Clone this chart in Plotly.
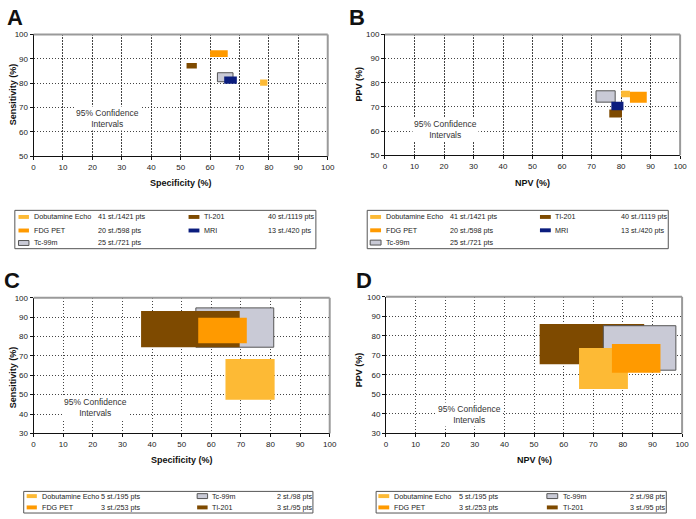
import plotly.graph_objects as go

W, H = 696, 519

# ---------------- data ----------------
COLORS = {
    "Dobutamine Echo": "#FDBA35",
    "FDG PET": "#FF9A00",
    "Tl-201": "#7E4A00",
    "Tc-99m": "#C9CAD6",
    "MRI": "#0B1D7E",
}

# Panel A: sensitivity vs specificity (all studies)
methods_A = ["Dobutamine Echo", "FDG PET", "Tl-201", "Tc-99m", "MRI"]
spec_lo_A = [77.0, 60.0, 52.0, 62.5, 64.8]
spec_hi_A = [79.5, 66.0, 55.5, 67.8, 69.1]
sens_lo_A = [79.0, 90.7, 86.0, 80.6, 79.8]
sens_hi_A = [81.5, 93.5, 88.3, 84.3, 82.7]

# Panel B: PPV vs NPV (all studies)
methods_B = ["Tc-99m", "Dobutamine Echo", "FDG PET", "Tl-201", "MRI"]
npv_lo_B = [71.5, 80.0, 83.0, 76.0, 76.7]
npv_hi_B = [78.0, 83.0, 88.7, 80.3, 80.8]
ppv_lo_B = [72.0, 74.0, 71.7, 65.6, 68.6]
ppv_hi_B = [76.7, 76.7, 76.3, 69.0, 72.2]

# Panel C: sensitivity vs specificity (subset)
methods_C = ["Tc-99m", "Tl-201", "FDG PET", "Dobutamine Echo"]
spec_lo_C = [54.8, 36.3, 55.6, 64.8]
spec_hi_C = [81.1, 69.6, 72.0, 81.4]
sens_lo_C = [74.5, 74.5, 76.5, 47.4]
sens_hi_C = [94.8, 93.2, 89.7, 68.4]

# Panel D: PPV vs NPV (subset)
methods_D = ["Tl-201", "Tc-99m", "Dobutamine Echo", "FDG PET"]
npv_lo_D = [51.9, 73.4, 65.2, 76.3]
npv_hi_D = [87.2, 97.9, 81.7, 92.7]
ppv_lo_D = [65.4, 62.4, 52.8, 61.1]
ppv_hi_D = [86.1, 85.2, 73.8, 75.8]

x_ticks = [0, 10, 20, 30, 40, 50, 60, 70, 80, 90, 100]

# legends
leg_AB_col1 = ["Dobutamine Echo", "FDG PET", "Tc-99m"]
leg_AB_col1_n = ["41 st./1421 pts", "20 st./598 pts", "25 st./721 pts"]
leg_AB_col2 = ["Tl-201", "MRI"]
leg_AB_col2_n = ["40 st./1119 pts", "13 st./420 pts"]

leg_CD_col1 = ["Dobutamine Echo", "FDG PET"]
leg_CD_col1_n = ["5 st./195 pts", "3 st./253 pts"]
leg_CD_col2 = ["Tc-99m", "Tl-201"]
leg_CD_col2_n = ["2 st./98 pts", "3 st./95 pts"]


def px(x):
    return x / W


def py(y):
    return 1 - y / H


FONT = "Liberation Sans, Arial, Helvetica, sans-serif"
LEG_SIZE = 7.2
TICK_SIZE = 8

fig = go.Figure()

panels = [
    dict(ax="", methods=methods_A, xlo=spec_lo_A, xhi=spec_hi_A, ylo=sens_lo_A, yhi=sens_hi_A,
         dom=(32, 330, 31, 155), yr=[50, 100], letter="A", letpos=(13, 14),
         xt="Specificity (%)", xtpos=(181, 182.5), yt="Sensitivity (%)", ytpos=(12, 92),
         note=(25, 65.7)),
    dict(ax="2", methods=methods_B, xlo=npv_lo_B, xhi=npv_hi_B, ylo=ppv_lo_B, yhi=ppv_hi_B,
         dom=(388, 687, 31, 154), yr=[50, 100], letter="B", letpos=(360, 14),
         xt="NPV (%)", xtpos=(537.5, 182), yt="PPV (%)", ytpos=(361.5, 81),
         note=(20.6, 60.8)),
    dict(ax="3", methods=methods_C, xlo=spec_lo_C, xhi=spec_hi_C, ylo=sens_lo_C, yhi=sens_hi_C,
         dom=(32, 332, 299, 437), yr=[30, 100], letter="C", letpos=(10, 281),
         xt="Specificity (%)", xtpos=(182, 464), yt="Sensitivity (%)", ytpos=(12, 380),
         note=(20.8, 43.5)),
    dict(ax="4", methods=methods_D, xlo=npv_lo_D, xhi=npv_hi_D, ylo=ppv_lo_D, yhi=ppv_hi_D,
         dom=(389, 689, 298, 437), yr=[30, 100], letter="D", letpos=(367, 281),
         xt="NPV (%)", xtpos=(539, 464), yt="PPV (%)", ytpos=(361.5, 372),
         note=(28.3, 39.7)),
]

shapes = []
annotations = []
layout_axes = {}


def centered(**kw):
    kw.setdefault("xanchor", "center")
    kw.setdefault("yanchor", "middle")
    kw.setdefault("showarrow", False)
    return kw


for p in panels:
    a = p["ax"]
    xname, yname = "x" + a, "y" + a
    for m, x0, x1, y0, y1 in zip(p["methods"], p["xlo"], p["xhi"], p["ylo"], p["yhi"]):
        bordered = m == "Tc-99m"
        fig.add_trace(go.Scatter(
            x=[x0, x1, x1, x0, x0], y=[y0, y0, y1, y1, y0],
            xaxis=xname, yaxis=yname, mode="lines", fill="toself",
            fillcolor=COLORS[m],
            line=dict(color="#555555" if bordered else COLORS[m], width=1 if bordered else 0),
            hoverinfo="skip", showlegend=False,
        ))
    x0p, x1p, ytp, ybp = p["dom"]
    common = dict(ticks="outside", ticklen=3, tickcolor="#111",
                  showline=True, linecolor="#111", linewidth=1,
                  showgrid=True, gridcolor="#444", griddash="1.5px,1.5px", gridwidth=1,
                  zeroline=False, tickfont=dict(family=FONT, size=TICK_SIZE, color="#222"),
                  fixedrange=True)
    xa = dict(domain=[px(x0p), px(x1p)], range=[0, 100], anchor=yname,
              tickvals=x_ticks, **common)
    yticks = list(range(p["yr"][0], 101, 10))
    ya = dict(domain=[py(ybp), py(ytp)], range=p["yr"], anchor=xname,
              tickvals=yticks, **common)
    layout_axes["xaxis" + a] = xa
    layout_axes["yaxis" + a] = ya
    shapes.append(dict(type="line", xref=xname + " domain", yref=yname + " domain",
                       x0=0, x1=1, y0=1, y1=1, line=dict(color="#9a9a9a", width=2)))
    shapes.append(dict(type="line", xref=xname + " domain", yref=yname + " domain",
                       x0=1, x1=1, y0=0, y1=1, line=dict(color="#9a9a9a", width=2)))
    annotations.append(centered(text="<b>%s</b>" % p["letter"], x=px(p["letpos"][0]),
                                y=py(p["letpos"][1]), xref="paper", yref="paper",
                                font=dict(family=FONT, size=22, color="#111")))
    annotations.append(centered(text="<b>%s</b>" % p["xt"], x=px(p["xtpos"][0]),
                                y=py(p["xtpos"][1]), xref="paper", yref="paper",
                                font=dict(family=FONT, size=9, color="#111")))
    annotations.append(centered(text="<b>%s</b>" % p["yt"], x=px(p["ytpos"][0]),
                                y=py(p["ytpos"][1]), xref="paper", yref="paper", textangle=-90,
                                font=dict(family=FONT, size=9, color="#111")))
    annotations.append(centered(text="95% Confidence<br>Intervals", x=p["note"][0], y=p["note"][1],
                                xref=xname, yref=yname, bgcolor="white", borderpad=1,
                                font=dict(family=FONT, size=8.5, color="#333")))


def add_legend(box, rows_y, cols):
    bx0, bx1, by0, by1 = box
    shapes.append(dict(type="rect", xref="paper", yref="paper",
                       x0=px(bx0), x1=px(bx1), y0=py(by1), y1=py(by0),
                       line=dict(color="#555", width=1), fillcolor="rgba(0,0,0,0)"))
    for (sw0, sw1, lab_x, cnt_x, names, counts) in cols:
        for ry, nm, ct in zip(rows_y, names, counts):
            bordered = nm == "Tc-99m"
            hh = 2.5 if bordered else 2
            shapes.append(dict(type="rect", xref="paper", yref="paper",
                               x0=px(sw0), x1=px(sw1), y0=py(ry + hh), y1=py(ry - hh),
                               fillcolor=COLORS[nm],
                               line=dict(color="#555" if bordered else COLORS[nm],
                                         width=1 if bordered else 0)))
            annotations.append(dict(text=nm, x=px(lab_x), y=py(ry), xref="paper", yref="paper",
                                    xanchor="left", yanchor="middle", showarrow=False,
                                    font=dict(family=FONT, size=LEG_SIZE, color="#222")))
            annotations.append(dict(text=ct, x=px(cnt_x), y=py(ry), xref="paper", yref="paper",
                                    xanchor="left", yanchor="middle", showarrow=False,
                                    font=dict(family=FONT, size=LEG_SIZE, color="#222")))


add_legend((13, 318, 210, 249), [216.7, 230.5, 243.2],
           [(16.7, 27.3, 30.2, 95.5, leg_AB_col1, leg_AB_col1_n),
            (189, 200, 202.5, 267.5, leg_AB_col2, leg_AB_col2_n)])
add_legend((370, 675, 210, 249), [216.7, 230.3, 242.8],
           [(373, 384, 386.5, 451.5, leg_AB_col1, leg_AB_col1_n),
            (545, 556, 558.5, 625, leg_AB_col2, leg_AB_col2_n)])
add_legend((22, 315, 496, 518), [500.8, 512.3],
           [(25, 35.3, 38.3, 98.5, leg_CD_col1, leg_CD_col1_n),
            (197.7, 208.3, 210.3, 276.3, leg_CD_col2, leg_CD_col2_n)])
add_legend((379, 673, 496, 518), [500.8, 512.3],
           [(381.3, 392.3, 395.3, 461, leg_CD_col1, leg_CD_col1_n),
            (552, 563, 566, 633.7, leg_CD_col2, leg_CD_col2_n)])

fig.update_layout(
    width=W, height=H, autosize=False,
    margin=dict(l=0, r=0, t=0, b=0),
    paper_bgcolor="white", plot_bgcolor="white",
    showlegend=False,
    shapes=shapes, annotations=annotations,
    font=dict(family=FONT),
    **layout_axes,
)

fig.write_html(
    "out.html",
    config={"displayModeBar": False},
    post_script="document.body.style.margin='0';document.body.style.padding='0';"
                "document.body.style.overflow='hidden';"
                "document.documentElement.style.overflow='hidden';",
)
